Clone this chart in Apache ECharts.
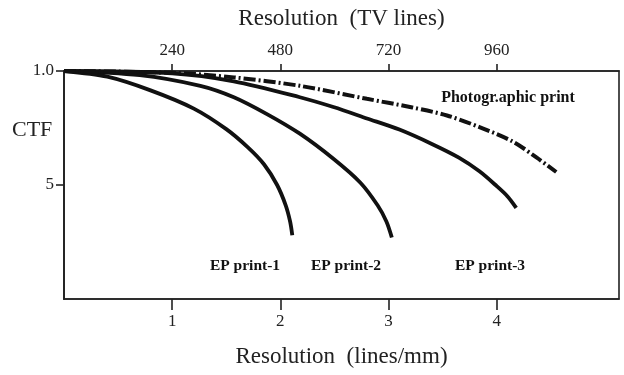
<!DOCTYPE html>
<html>
<head>
<meta charset="utf-8">
<script src="https://cdn.jsdelivr.net/npm/echarts@6/dist/echarts.min.js"></script>
<style>html,body{margin:0;padding:0;background:#fff}#c{width:624px;height:375px}</style>
</head>
<body>
<div id="c"></div>
<script>
// Data (x: resolution in lines/mm, y: CTF)
const ep1 = [[0,1.0],[0.4,0.975],[0.8,0.915],[1.2,0.835],[1.5,0.745],[1.7,0.665],[1.85,0.59],[1.97,0.50],[2.05,0.41],[2.09,0.34],[2.11,0.28]];
const ep2 = [[0,1.0],[0.7,0.982],[1.26,0.935],[1.57,0.885],[1.88,0.81],[2.18,0.725],[2.49,0.615],[2.74,0.51],[2.90,0.41],[2.98,0.34],[3.03,0.27]];
const ep3 = [[0,1.0],[1.0,0.99],[1.57,0.955],[2.18,0.885],[2.49,0.842],[2.80,0.792],[3.10,0.743],[3.40,0.68],[3.65,0.62],[3.84,0.56],[4.0,0.495],[4.1,0.45],[4.18,0.40]];
const photo = [[0,1.0],[1.01,0.992],[1.57,0.972],[2.18,0.935],[2.80,0.878],[3.22,0.84],[3.54,0.805],[3.84,0.754],[4.15,0.69],[4.37,0.62],[4.55,0.557]];
const xTickValues = [1,2,3,4];
const topTickValues = [240,480,720,960];
const yTickValues = [0.5,1.0];
const yTickLabels = ['5','1.0'];
const seriesNames = ['EP print-1','EP print-2','EP print-3','Photogr.aphic print'];

const serif = '"Liberation Serif","Times New Roman",serif';
const chart = echarts.init(document.getElementById('c'), null, {renderer:'canvas'});
const lineSeries = (name, data, dashed) => ({
  name, type:'line', data, smooth:0.3, showSymbol:false, xAxisIndex:0, yAxisIndex:0,
  lineStyle:{color:'#111', width: dashed?4:3.8, type: dashed?[12,3,2,3]:'solid', cap:'butt'},
  silent:true, animation:false
});
chart.setOption({
  animation:false,
  grid:{left:64, right:5, top:71, bottom:76, show:true, borderColor:'#222', borderWidth:1.6, containLabel:false},
  xAxis:[{
    type:'value', position:'bottom', min:0, max:5.13,
    axisLine:{show:true, lineStyle:{color:'#222', width:1.6}},
    axisTick:{show:true, customValues:xTickValues, inside:false, length:11, lineStyle:{color:'#222', width:1.6}},
    axisLabel:{customValues:xTickValues, fontFamily:serif, fontSize:17, color:'#222', margin:14},
    splitLine:{show:false},
    name:'Resolution  (lines/mm)', nameLocation:'middle', nameGap:46,
    nameTextStyle:{fontFamily:serif, fontSize:23, color:'#222'}
  },{
    type:'value', position:'top', min:0, max:5.13*240,
    axisLine:{show:true, lineStyle:{color:'#222', width:1.6}},
    axisTick:{show:true, customValues:topTickValues, length:7, lineStyle:{color:'#222', width:1.6}},
    axisLabel:{customValues:topTickValues, fontFamily:serif, fontSize:17, color:'#222', margin:12},
    splitLine:{show:false},
    name:'Resolution  (TV lines)', nameLocation:'middle', nameGap:41,
    nameTextStyle:{fontFamily:serif, fontSize:23, color:'#222'}
  }],
  yAxis:[{
    type:'value', min:0, max:1,
    axisLine:{show:true, lineStyle:{color:'#222', width:1.8}},
    axisTick:{show:true, customValues:yTickValues, length:8, lineStyle:{color:'#222', width:1.6}},
    axisLabel:{customValues:yTickValues, fontFamily:serif, fontSize:17, color:'#222', margin:10,
      formatter:(v)=>{const i=yTickValues.indexOf(v); return i>=0?yTickLabels[i]:'';}},
    splitLine:{show:false}
  }],
  graphic:[
    {type:'text', left:12, top:119, style:{text:'CTF', font:'22px '+serif, fill:'#222'}},
    {type:'text', x:508, y:98, style:{text:seriesNames[3], font:'bold 16px '+serif, fill:'#111', align:'center', verticalAlign:'middle'}},
    {type:'text', x:245, y:266, style:{text:seriesNames[0], font:'bold 15.5px '+serif, fill:'#111', align:'center', verticalAlign:'middle'}},
    {type:'text', x:346, y:266, style:{text:seriesNames[1], font:'bold 15.5px '+serif, fill:'#111', align:'center', verticalAlign:'middle'}},
    {type:'text', x:490, y:266, style:{text:seriesNames[2], font:'bold 15.5px '+serif, fill:'#111', align:'center', verticalAlign:'middle'}}
  ],
  series:[
    lineSeries(seriesNames[0], ep1, false),
    lineSeries(seriesNames[1], ep2, false),
    lineSeries(seriesNames[2], ep3, false),
    lineSeries(seriesNames[3], photo, true)
  ]
});
</script>
</body>
</html>
